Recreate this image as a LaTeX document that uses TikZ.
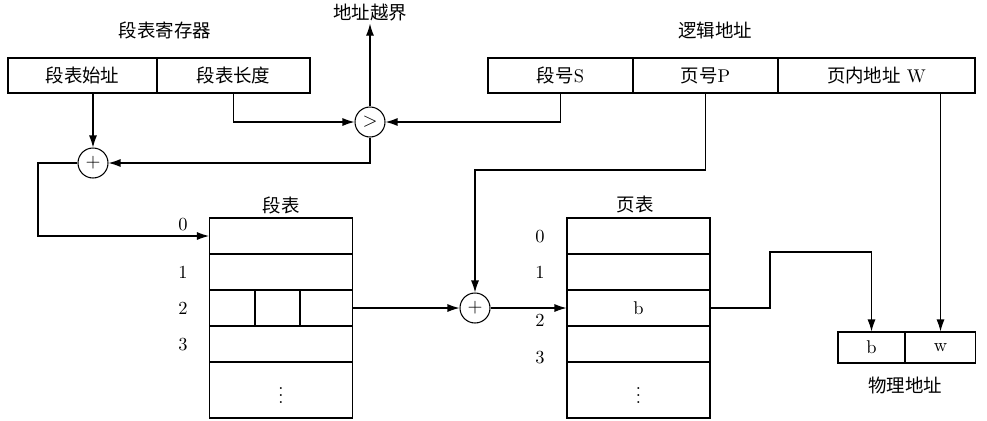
\documentclass[tikz,border=0pt]{standalone}
\usepackage{fontspec}
\newfontfamily\cjk{Noto Sans CJK SC}
\usetikzlibrary{positioning,arrows.meta}
\tikzset {
    field/.style={
        draw=black,
        line width=0.6pt,
        rectangle, % one field of a register
        minimum height=0.7cm,
        inner sep=0pt,
        align=center,
    },
    row/.style={
        draw=black,
        line width=0.6pt,
        rectangle, % one row of a table
        minimum width=2.86cm,
        minimum height=0.72cm,
        inner sep=0pt,
    },
    op/.style={
        draw=black,
        line width=0.6pt,
        circle,
        minimum size=0.6cm,
        inner sep=0pt,
    },
    lbl/.style={draw=none, inner sep=1pt},
    arr/.style={line width=0.6pt, -{Latex[length=2.4mm,width=1.6mm]}},
}

\begin{document}
\begin{tikzpicture}
[x=0.02cm, y=-0.02cm, font=\fontsize{10.5}{12}\selectfont]
\useasboundingbox (0,0) rectangle (987,420);

\node[lbl] at (165,30) (regname) {\cjk 段表寄存器};
\node[field, minimum width=2.98cm] at (82.5,75.5) (base) {\cjk 段表始址};
\node[field, minimum width=3.06cm] at (233.5,75.5) (len) {\cjk 段表长度};

\node[lbl] at (715,30) (laname) {\cjk 逻辑地址};
\node[field, minimum width=2.9cm] at (560.5,75.5) (segno) {{\cjk 段号}S};
\node[field, minimum width=2.9cm] at (705.5,75.5) (pageno) {{\cjk 页号}P};
\node[field, minimum width=3.94cm] at (876.5,75.5) (offset) {{\cjk 页内地址} W};

\node[lbl] at (370,13) (overflow) {\cjk 地址越界};
\node[op] at (370,122) (cmp) {$>$};
\node[op] at (93,163) (add1) {$+$};
\node[op] at (475,308) (add2) {$+$};

% segment table
\node[lbl] at (281,205) (stname) {\cjk 段表};
\node[row] at (281,236) (s0) {};
\node[row] at (281,272) (s1) {};
\node[row] at (281,308) (s2) {};
\node[row] at (281,344) (s3) {};
\node[row, minimum height=1.12cm] at (281,390) (s4) {$\vdots$};
\draw[line width=0.6pt] (255,290) -- (255,326) (300,290) -- (300,326);
\node[lbl] at (183,225) {0};
\node[lbl] at (183,272) {1};
\node[lbl] at (183,308) {2};
\node[lbl] at (183,345) {3};

% page table
\node[lbl] at (635,205) (ptname) {\cjk 页表};
\node[row] at (638.5,236) (p0) {};
\node[row] at (638.5,272) (p1) {};
\node[row] at (638.5,308) (p2) {b};
\node[row] at (638.5,344) (p3) {};
\node[row, minimum height=1.12cm] at (638.5,390) (p4) {$\vdots$};
\node[lbl] at (540,237) {0};
\node[lbl] at (540,272) {1};
\node[lbl] at (540,320) {2};
\node[lbl] at (540,358) {3};

% physical address
\node[field, minimum width=1.34cm, minimum height=0.62cm] at (871.5,347.5) (pb) {b};
\node[field, minimum width=1.4cm, minimum height=0.62cm] at (940.5,347.5) (pw) {w};
\node[lbl] at (905,385) (paname) {\cjk 物理地址};

\coordinate (left) at (38,163);
\coordinate (bend) at (475,170);
\coordinate (up) at (770,252);

\draw[arr] (len.south) |- (cmp.west);
\draw[arr] (segno.south) |- (cmp.east);
\draw[arr] (cmp.north) -- (overflow.south);
\draw[arr] (cmp.south) |- (add1.east);
\draw[arr] (base.south -| add1.north) -- (add1.north);
\draw[arr] (add1.west) -- (left) |- (s0.west);
\draw[arr] (s2.east) -- (add2.west);
\draw[arr] (pageno.south) |- (bend) -- (add2.north);
\draw[arr] (add2.east) -- (p2.west);
\draw[arr] (p2.east) -| (up) -| (pb.north);
\draw[arr] (offset.south -| pw.north) -- (pw.north);
\end{tikzpicture}
\end{document}
